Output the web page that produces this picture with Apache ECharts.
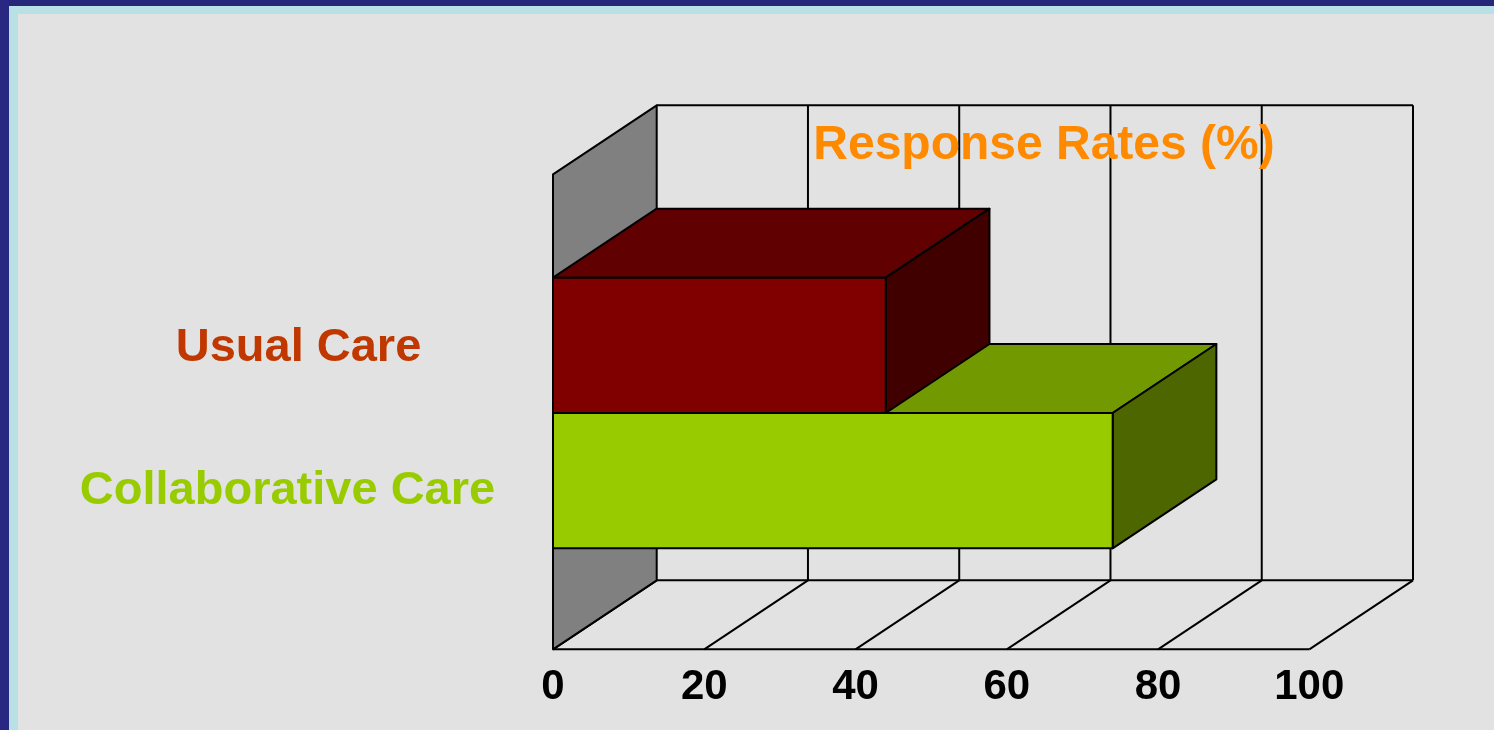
<!DOCTYPE html>
<html>
<head>
<meta charset="utf-8">
<title>Response Rates (%)</title>
<script src="https://cdn.jsdelivr.net/npm/echarts@6/dist/echarts.min.js"></script>
<style>
  html, body { margin: 0; padding: 0; background: #e2e2e2; }
  #chart { width: 1494px; height: 730px; }
</style>
</head>
<body>
<div id="chart"></div>
<script>
// ---- data ----
const categories = ['Collaborative Care', 'Usual Care'];   // bottom to top
const responseRates = [74, 44];
const xTicks = [0, 20, 40, 60, 80, 100];
const chartTitle = 'Response Rates (%)';

// ---- style ----
const FONT = '"Liberation Sans", Arial, sans-serif';
const DX = 103.7, DY = -69;              // depth offset of the back plane
const PAD_TOP = 103.4, PAD_BOTTOM = 101; // walls extend beyond the bar band
const barColors = {
  'Collaborative Care': { front: '#99cc00', top: '#739900', side: '#4d6600' },
  'Usual Care':         { front: '#800000', top: '#600000', side: '#400000' }
};
const labelColors = { 'Collaborative Care': '#99cc00', 'Usual Care': '#c03800' };

const chart = echarts.init(document.getElementById('chart'), null, { renderer: 'canvas' });

function frameItem(params, api) {
  const cs = params.coordSys;
  const frontTop = cs.y - PAD_TOP;
  const frontFloor = cs.y + cs.height + PAD_BOTTOM;
  const backTop = frontTop + DY;
  const backFloor = frontFloor + DY;
  const xs = xTicks.map(t => api.coord([t, 0])[0]);
  const x0 = xs[0], xN = xs[xs.length - 1];
  const line = { stroke: '#000', lineWidth: 2, fill: null };
  const children = [];
  // back wall verticals
  xs.slice(1).forEach(x => {
    children.push({ type: 'line', shape: { x1: x + DX, y1: backTop, x2: x + DX, y2: backFloor }, style: line });
  });
  // back wall top edge and floor back edge
  children.push({ type: 'line', shape: { x1: x0 + DX, y1: backTop, x2: xN + DX, y2: backTop }, style: line });
  children.push({ type: 'line', shape: { x1: x0 + DX, y1: backFloor, x2: xN + DX, y2: backFloor }, style: line });
  // floor front edge and depth lines
  children.push({ type: 'line', shape: { x1: x0, y1: frontFloor, x2: xN, y2: frontFloor }, style: line });
  xs.forEach(x => {
    children.push({ type: 'line', shape: { x1: x, y1: frontFloor, x2: x + DX, y2: backFloor }, style: line });
  });
  // left wall
  children.push({
    type: 'polygon',
    shape: { points: [[x0, frontTop], [x0 + DX, backTop], [x0 + DX, backFloor], [x0, frontFloor]] },
    style: { fill: '#808080', stroke: '#000', lineWidth: 2, lineJoin: 'round' }
  });
  return { type: 'group', children };
}

function barItem(params, api) {
  const val = api.value(0);
  const catIdx = api.value(1);
  const name = categories[catIdx];
  const c = barColors[name];
  const start = api.coord([0, catIdx]);
  const end = api.coord([val, catIdx]);
  const h = api.size([0, 1])[1];
  const x = start[0], y = start[1] - h / 2, w = end[0] - start[0];
  const edge = { stroke: '#000', lineWidth: 2, lineJoin: 'round' };
  return {
    type: 'group',
    children: [
      { type: 'polygon', shape: { points: [[x, y], [x + DX, y + DY], [x + w + DX, y + DY], [x + w, y]] },
        style: Object.assign({ fill: c.top }, edge) },
      { type: 'polygon', shape: { points: [[x + w, y], [x + w + DX, y + DY], [x + w + DX, y + h + DY], [x + w, y + h]] },
        style: Object.assign({ fill: c.side }, edge) },
      { type: 'rect', shape: { x: x, y: y, width: w, height: h },
        style: Object.assign({ fill: c.front }, edge) }
    ]
  };
}

const option = {
  backgroundColor: '#e2e2e2',
  animation: false,
  title: {
    text: chartTitle,
    left: 1039,
    top: 117,
    textAlign: 'center',
    textStyle: { fontFamily: FONT, fontWeight: 'bold', fontSize: 48, color: '#ff8a00', lineHeight: 48 }
  },
  graphic: [
    { type: 'rect', shape: { x: 0, y: 0, width: 1494, height: 6 }, style: { fill: '#272779' }, z: 100 },
    { type: 'rect', shape: { x: 0, y: 0, width: 9, height: 730 }, style: { fill: '#282882' }, z: 100 },
    { type: 'rect', shape: { x: 9, y: 6, width: 1485, height: 8 }, style: { fill: '#b9e0e4' }, z: 101 },
    { type: 'rect', shape: { x: 9, y: 6, width: 9, height: 724 }, style: { fill: '#b9e0e4' }, z: 101 }
  ],
  grid: {
    left: 553, right: 184.7, top: 277.7, bottom: 181.7,
    containLabel: false, outerBoundsMode: 'none'
  },
  xAxis: {
    type: 'value', min: 0, max: 100, interval: 20,
    axisLine: { show: false }, axisTick: { show: false }, splitLine: { show: false },
    axisLabel: {
      margin: 118, color: '#000', fontFamily: FONT, fontWeight: 'bold', fontSize: 42, lineHeight: 42
    }
  },
  yAxis: {
    type: 'category', data: categories,
    axisLine: { show: false }, axisTick: { show: false }, splitLine: { show: false },
    axisLabel: {
      margin: 260, align: 'center',
      formatter: v => v === 'Usual Care' ? '{u|' + v + '}' : '{c|' + v + '}',
      rich: {
        u: { color: labelColors['Usual Care'], fontFamily: FONT, fontWeight: 'bold', fontSize: 47, padding: [6, 0, 0, 11] },
        c: { color: labelColors['Collaborative Care'], fontFamily: FONT, fontWeight: 'bold', fontSize: 47, padding: [21, 11, 0, 0] }
      }
    }
  },
  series: [
    { type: 'custom', name: 'frame', z: 1, silent: true, data: [[0, 0]], renderItem: frameItem },
    { type: 'custom', name: chartTitle, z: 2,
      data: responseRates.map((v, i) => [v, i]),
      encode: { x: 0, y: 1 },
      renderItem: barItem }
  ]
};

chart.setOption(option);
</script>
</body>
</html>
